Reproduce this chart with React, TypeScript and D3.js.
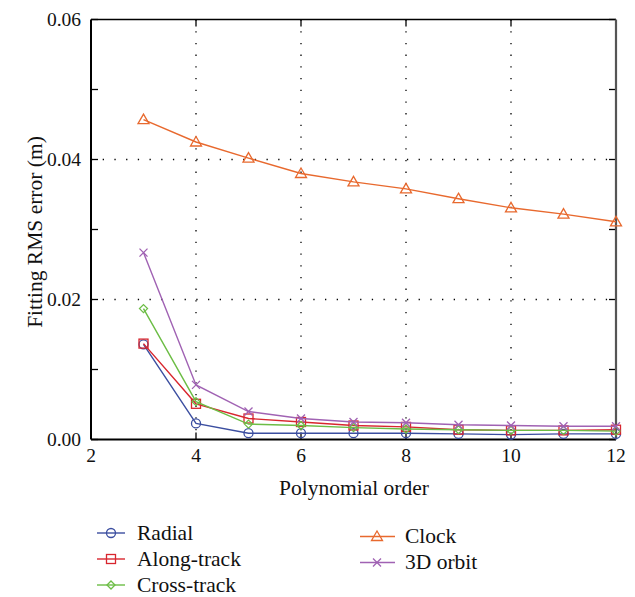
import React from "react";
import * as d3 from "d3";

const orders = [3, 4, 5, 6, 7, 8, 9, 10, 11, 12];
const radial = [0.0136, 0.0023, 0.0009, 0.0009, 0.0009, 0.0009, 0.0008, 0.0007, 0.0008, 0.0008];
const alongTrack = [0.0137, 0.0051, 0.003, 0.0025, 0.002, 0.0018, 0.0014, 0.0013, 0.0013, 0.0014];
const crossTrack = [0.0187, 0.0054, 0.0022, 0.002, 0.0017, 0.0015, 0.0014, 0.0013, 0.0013, 0.0012];
const clock = [0.0457, 0.0425, 0.0402, 0.038, 0.0368, 0.0358, 0.0344, 0.0331, 0.0322, 0.0311];
const orbit3D = [0.0267, 0.0078, 0.004, 0.003, 0.0025, 0.0024, 0.0021, 0.002, 0.0019, 0.0019];

const xTicks = [2, 4, 6, 8, 10, 12];
const yTicks = [0, 0.02, 0.04, 0.06];
const yMinor = [0.01, 0.03, 0.05];

type S = { name: string; values: number[]; color: string; marker: string };
const series: S[] = [
  { name: "Radial", values: radial, color: "#3b4ea0", marker: "circle" },
  { name: "Along-track", values: alongTrack, color: "#d8262e", marker: "square" },
  { name: "Cross-track", values: crossTrack, color: "#6cbd45", marker: "diamond" },
  { name: "Clock", values: clock, color: "#e8692e", marker: "triangle" },
  { name: "3D orbit", values: orbit3D, color: "#a062b3", marker: "cross" },
];

const tickStyle: React.CSSProperties = { fontFamily: "Liberation Serif", fontSize: 19.5 };
const labelStyle: React.CSSProperties = { fontFamily: "Liberation Serif", fontSize: 21.5 };

function Marker({ type, x, y, color }: { type: string; x: number; y: number; color: string }) {
  const common = { fill: "none", stroke: color, strokeWidth: 1.3 };
  if (type === "circle") return <circle cx={x} cy={y} r={4.5} {...common} />;
  if (type === "square") return <rect x={x - 4.5} y={y - 4.5} width={9} height={9} {...common} />;
  if (type === "diamond")
    return <path d={`M${x},${y - 4}L${x + 4},${y}L${x},${y + 4}L${x - 4},${y}Z`} {...common} />;
  if (type === "triangle")
    return <path d={`M${x},${y - 5.5}L${x + 5.5},${y + 4}L${x - 5.5},${y + 4}Z`} {...common} />;
  return (
    <path d={`M${x - 4},${y - 4}L${x + 4},${y + 4}M${x - 4},${y + 4}L${x + 4},${y - 4}`} {...common} />
  );
}

export default function App() {
  const W = 635, H = 597;
  const left = 91, right = 616, top = 19.5, bottom = 439.5;
  const x = d3.scaleLinear().domain([2, 12]).range([left, right]);
  const y = d3.scaleLinear().domain([0, 0.06]).range([bottom, top]);
  const line = d3
    .line<number>()
    .x((_, i) => x(orders[i]))
    .y((d) => y(d));

  const legendLeft = [series[0], series[1], series[2]];
  const legendRight = [series[3], series[4]];

  return (
    <svg width={W} height={H} style={{ position: "absolute", left: 0, top: 0 }}>
      <rect width={W} height={H} fill="#fff" />
      {[4, 6, 8, 10].map((t) => (
        <line key={"gx" + t} x1={x(t)} x2={x(t)} y1={top} y2={bottom} stroke="#000" strokeWidth={1.3} strokeDasharray="1.3,10.4" />
      ))}
      {[0.02, 0.04].map((t) => (
        <line key={"gy" + t} x1={left} x2={right} y1={y(t)} y2={y(t)} stroke="#000" strokeWidth={1.3} strokeDasharray="1.3,10.4" />
      ))}
      {[4, 6, 8, 10].map((t) => (
        <g key={"tx" + t}>
          <line x1={x(t)} x2={x(t)} y1={bottom} y2={bottom - 7} stroke="#000" strokeWidth={1.3} />
          <line x1={x(t)} x2={x(t)} y1={top} y2={top + 7} stroke="#000" strokeWidth={1.3} />
        </g>
      ))}
      {[...yTicks, ...yMinor].map((t) => (
        <g key={"ty" + t}>
          <line x1={left} x2={left + 7} y1={y(t)} y2={y(t)} stroke="#000" strokeWidth={1.3} />
          <line x1={right} x2={right - 7} y1={y(t)} y2={y(t)} stroke="#000" strokeWidth={1.3} />
        </g>
      ))}
      <line x1={left} x2={right} y1={top} y2={top} stroke="#000" strokeWidth={1.5} />
      <line x1={left} x2={right} y1={bottom} y2={bottom} stroke="#000" strokeWidth={2} />
      <line x1={left} x2={left} y1={top} y2={bottom} stroke="#000" strokeWidth={2} />
      <line x1={right} x2={right} y1={top} y2={bottom} stroke="#555" strokeWidth={2.2} />
      {series.map((s) => (
        <g key={s.name}>
          <path d={line(s.values) || ""} fill="none" stroke={s.color} strokeWidth={1.4} />
          {s.values.map((v, i) => (
            <Marker key={i} type={s.marker} x={x(orders[i])} y={y(v)} color={s.color} />
          ))}
        </g>
      ))}
      {xTicks.map((t) => (
        <text key={"lx" + t} x={x(t)} y={462} textAnchor="middle" style={tickStyle} fill="#111">
          {t}
        </text>
      ))}
      {yTicks.map((t) => (
        <text key={"ly" + t} x={81} y={y(t) + 6} textAnchor="end" style={tickStyle} fill="#111">
          {d3.format(".2f")(t)}
        </text>
      ))}
      <text x={354} y={495} textAnchor="middle" style={labelStyle} fill="#111">
        Polynomial order
      </text>
      <text
        transform={`translate(42,232) rotate(-90)`}
        textAnchor="middle"
        style={labelStyle}
        fill="#111"
      >
        Fitting RMS error (m)
      </text>
      {legendLeft.map((s, i) => {
        const ly = 533 + i * 26;
        return (
          <g key={s.name}>
            <line x1={97} x2={125} y1={ly} y2={ly} stroke={s.color} strokeWidth={1.4} />
            <Marker type={s.marker} x={111} y={ly} color={s.color} />
            <text x={137} y={ly + 6.5} style={labelStyle} fill="#111">
              {s.name}
            </text>
          </g>
        );
      })}
      {legendRight.map((s, i) => {
        const ly = 536.5 + i * 26;
        return (
          <g key={s.name}>
            <line x1={360} x2={395} y1={ly} y2={ly} stroke={s.color} strokeWidth={1.4} />
            <Marker type={s.marker} x={377} y={ly} color={s.color} />
            <text x={405} y={ly + 6.5} style={labelStyle} fill="#111">
              {s.name}
            </text>
          </g>
        );
      })}
    </svg>
  );
}
